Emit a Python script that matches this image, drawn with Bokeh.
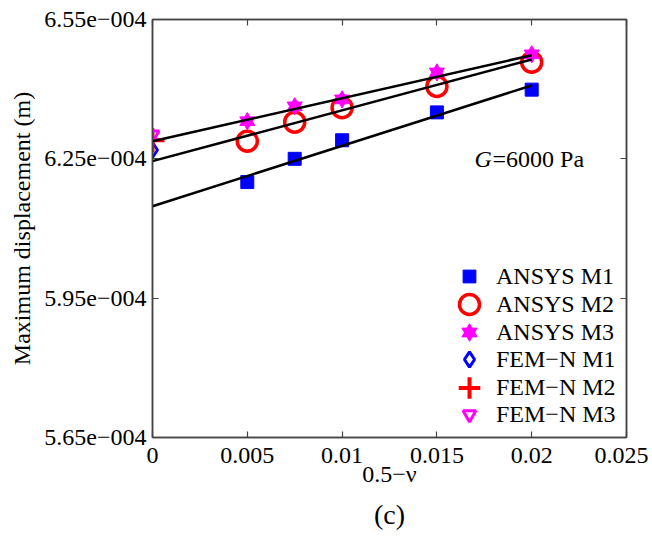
from bokeh.plotting import figure
from bokeh.models import (Range1d, FixedTicker, CustomJSTickFormatter, LinearAxis,
                          Legend, LegendItem, Label, Title)
from bokeh.embed import file_html
from bokeh.resources import INLINE

# ---------------- data ----------------
nu_ansys = [0.005, 0.0075, 0.01, 0.015, 0.02]
ansys_m1 = [6.200e-4, 6.250e-4, 6.290e-4, 6.350e-4, 6.399e-4]
ansys_m2 = [6.288e-4, 6.329e-4, 6.360e-4, 6.406e-4, 6.458e-4]
ansys_m3 = [6.331e-4, 6.363e-4, 6.378e-4, 6.436e-4, 6.475e-4]

nu_fem = [0.0]
fem_m1 = [6.269e-4]
fem_m2 = [6.290e-4]
fem_m3 = [6.302e-4]

fit_x = [0.0, 0.02]
fit_m1 = [6.148e-4, 6.408e-4]
fit_m2 = [6.245e-4, 6.464e-4]
fit_m3 = [6.288e-4, 6.473e-4]

x_ticks = [0, 0.005, 0.01, 0.015, 0.02, 0.025]
y_ticks = [5.65e-4, 5.95e-4, 6.25e-4, 6.55e-4]

legend_labels = ["ANSYS M1", "ANSYS M2", "ANSYS M3", "FEM\u2212N M1", "FEM\u2212N M2", "FEM\u2212N M3"]

# ---------------- style ----------------
FONT = "Liberation Serif"
FS = "24px"
AX = "#444444"
BLUE, RED, MAG = "#0000ff", "#ff0000", "#ff00ff"

p = figure(width=648, height=536, output_backend="svg", toolbar_location=None,
           x_range=Range1d(0, 0.025), y_range=Range1d(5.65e-4, 6.55e-4),
           min_border_left=152, min_border_right=22, min_border_top=19,
           min_border_bottom=99)
p.xgrid.visible = False
p.ygrid.visible = False
p.outline_line_color = AX
p.outline_line_width = 1.5
p.background_fill_color = "white"
p.border_fill_color = "white"

yfmt = CustomJSTickFormatter(code="""
const s = tick.toExponential(2).split('e');
const e = parseInt(s[1]);
const sign = e < 0 ? '−' : '+';
return s[0] + 'e' + sign + String(Math.abs(e)).padStart(3, '0');
""")
xfmt = CustomJSTickFormatter(code="""
return tick === 0 ? '0' : String(parseFloat(tick.toFixed(4)));
""")
blank = CustomJSTickFormatter(code="return '';")

xax = p.below[0]
yax = p.left[0]
xax.ticker = FixedTicker(ticks=x_ticks)
yax.ticker = FixedTicker(ticks=y_ticks)
xax.formatter = xfmt
yax.formatter = yfmt
xax.axis_label = "0.5\u2212\u03bd"
yax.axis_label = "Maximum displacement (m)"

top_ax = LinearAxis(ticker=FixedTicker(ticks=x_ticks), formatter=blank)
right_ax = LinearAxis(ticker=FixedTicker(ticks=y_ticks), formatter=blank)
p.add_layout(top_ax, "above")
p.add_layout(right_ax, "right")

for ax in [xax, yax, top_ax, right_ax]:
    ax.axis_line_color = AX
    ax.axis_line_width = 1.5
    ax.major_tick_line_color = AX
    ax.major_tick_line_width = 1.2
    ax.major_tick_in = 6
    ax.major_tick_out = 0
    ax.minor_tick_line_color = None
    ax.major_label_text_font = FONT
    ax.major_label_text_font_size = FS
    ax.major_label_text_color = "black"
    ax.axis_label_text_font = FONT
    ax.axis_label_text_font_size = FS
    ax.axis_label_text_font_style = "normal"
    ax.axis_label_text_color = "black"
for ax in [top_ax, right_ax]:
    ax.major_label_text_font_size = "0px"
    ax.major_label_standoff = 0

xax.major_label_standoff = 10
xax.axis_label_standoff = -5
yax.major_label_standoff = 6
yax.axis_label_standoff = 6

# ---------------- marks ----------------
r_sq = p.scatter(nu_ansys, ansys_m1, marker="square", size=13,
                 fill_color=BLUE, line_color=BLUE, line_width=1)
r_ci = p.scatter(nu_ansys, ansys_m2, marker="circle", size=20,
                 fill_color=None, line_color=RED, line_width=3.5)
r_h1 = p.scatter(nu_ansys, ansys_m3, marker="triangle", size=15,
                 fill_color=MAG, line_color=MAG, line_width=1)
r_h2 = p.scatter(nu_ansys, ansys_m3, marker="inverted_triangle", size=15,
                 fill_color=MAG, line_color=MAG, line_width=1)
r_di = p.scatter(nu_fem, fem_m1, marker="diamond", size=15,
                 fill_color=None, line_color=BLUE, line_width=3)
r_cr = p.scatter(nu_fem, fem_m2, marker="cross", size=24,
                 fill_color=None, line_color=RED, line_width=4)
r_tr = p.scatter(nu_fem, fem_m3, marker="inverted_triangle", size=13,
                 fill_color=None, line_color=MAG, line_width=3)

for fy in [fit_m1, fit_m2, fit_m3]:
    p.line(fit_x, fy, line_color="black", line_width=2.5)

# ---------------- legend (one per entry so marker sizes match) ----------------
leg_renderers = [[r_sq], [r_ci], [r_h1, r_h2], [r_di], [r_cr], [r_tr]]
leg_sizes = [13, 20, 15, 15, 22, 13]
leg_centers = [161, 133, 105, 78, 50, 23]   # px above frame bottom
GW = 54
for lab, rends, sz, yc in zip(legend_labels, leg_renderers, leg_sizes, leg_centers):
    gh = sz / 0.4
    lg = Legend(items=[LegendItem(label=lab, renderers=rends)],
                location=(290, int(round(yc - gh / 2))),
                glyph_width=GW, glyph_height=int(round(gh)), label_height=int(round(gh)),
                label_standoff=0, padding=0, margin=0, spacing=0,
                label_text_font=FONT, label_text_font_size=FS, label_text_color="black",
                border_line_color=None, background_fill_alpha=0)
    p.add_layout(lg)

# ---------------- annotation text ----------------
p.add_layout(Label(x=322, y=279, x_units="screen", y_units="screen", text="G",
                   text_font=FONT, text_font_size=FS, text_font_style="italic",
                   text_baseline="middle", text_color="black"))
p.add_layout(Label(x=340, y=279, x_units="screen", y_units="screen", text="=6000 Pa",
                   text_font=FONT, text_font_size=FS, text_baseline="middle",
                   text_color="black"))

p.add_layout(Title(text="(c)", align="center", vertical_align="bottom",
                   text_font=FONT, text_font_size="28px",
                   text_font_style="normal", text_color="black", standoff=14), "below")

open("out.html", "w").write(file_html(p, INLINE))
